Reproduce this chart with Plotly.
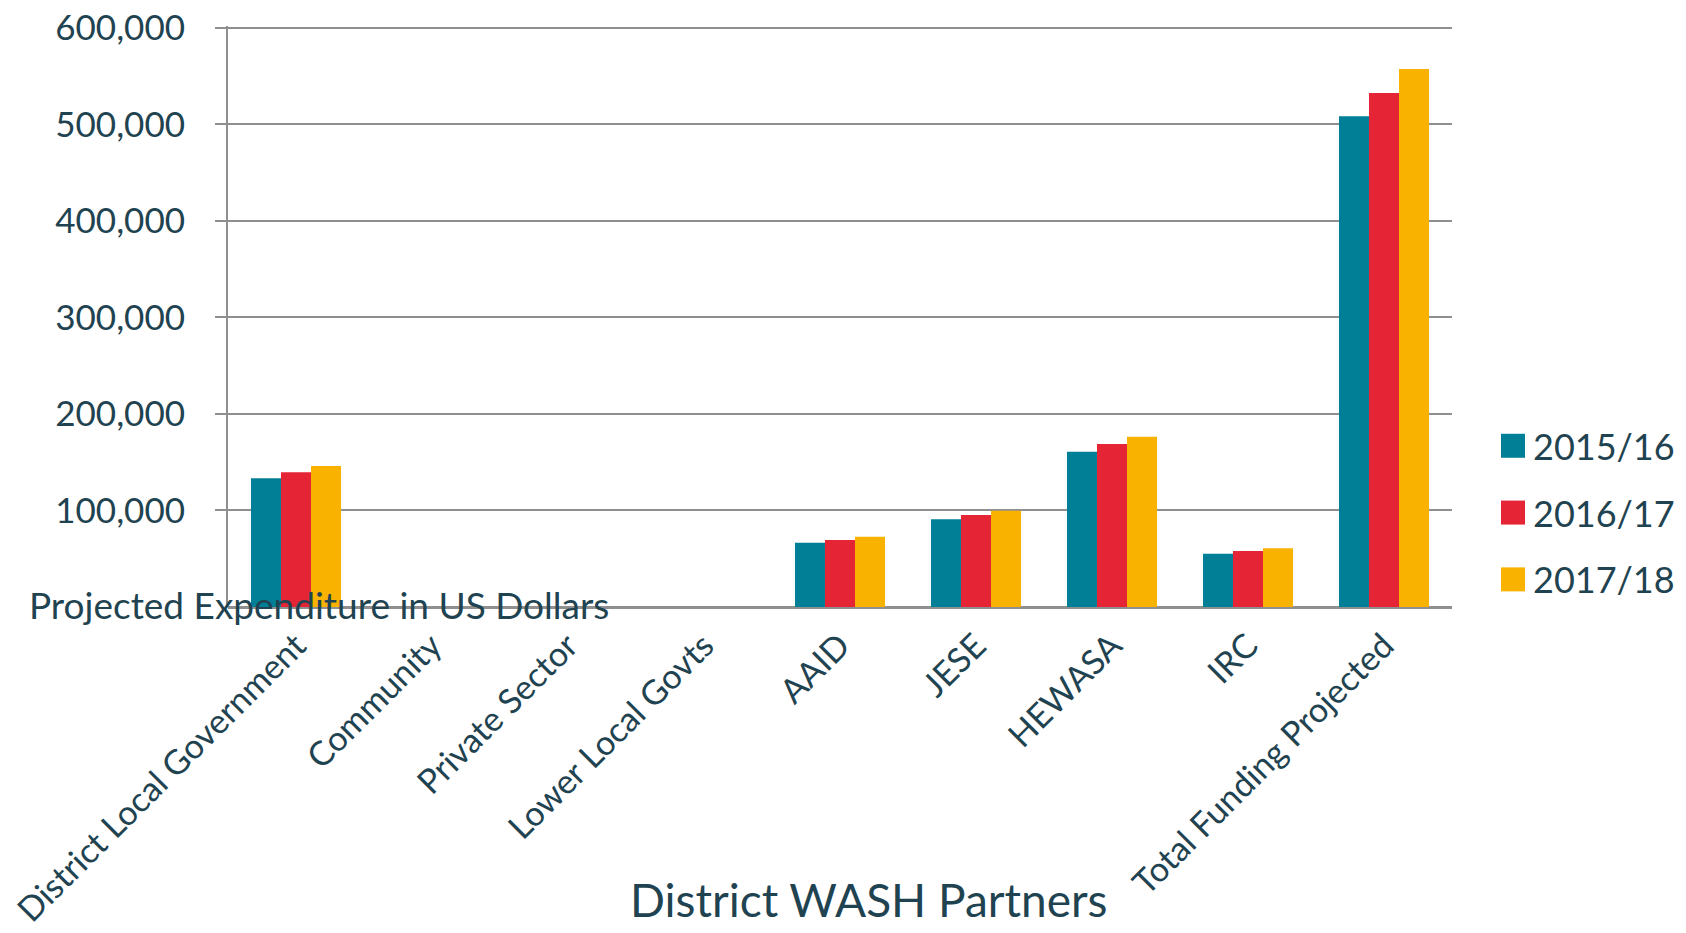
import plotly.graph_objects as go

categories = ["District Local Government", "Community", "Private Sector", "Lower Local Govts",
              "AAID", "JESE", "HEWASA", "IRC", "Total Funding Projected"]
series_names = ["2015/16", "2016/17", "2017/18"]
values_2015 = [133300, None, None, None, 66600, 91000, 160800, 55200, 508400]
values_2016 = [139500, None, None, None, 69400, 95300, 168800, 58000, 532500]
values_2017 = [146000, None, None, None, 72800, 99800, 176500, 61000, 557500]
colors = ["#007f97", "#e52535", "#f9b200"]
y_ticks = [100000, 200000, 300000, 400000, 500000, 600000]
y_title = "Projected Expenditure in US Dollars"
x_title = "District WASH Partners"

TXT = "#1f4350"
GRID = "#8f8f8f"
FONT = "Lato"

fig = go.Figure()
for name, vals, col in zip(series_names, [values_2015, values_2016, values_2017], colors):
    fig.add_trace(go.Bar(x=categories, y=vals, name=name, legendgroup=name,
                         marker=dict(color=col, line=dict(width=0))))

fig.update_layout(
    width=1686, height=933,
    margin=dict(l=228, r=234, t=26, b=326, autoexpand=False),
    paper_bgcolor="white", plot_bgcolor="white",
    barmode="group", bargap=0.338, bargroupgap=0,
    font=dict(family=FONT, color=TXT, size=35),
    legend=dict(x=1.0335, y=0.162, xanchor="left", yanchor="middle",
                font=dict(size=36, color=TXT, family=FONT),
                tracegroupgap=17, traceorder="grouped", bgcolor="rgba(0,0,0,0)"),
    xaxis=dict(showline=False, showgrid=False, ticks="", tickangle=-45, automargin=False,
               tickfont=dict(size=34, color=TXT, family=FONT), ticklabelstandoff=11),
    yaxis=dict(range=[0, 602000], tickvals=y_ticks, tickformat=",", automargin=False,
               showgrid=True, gridcolor=GRID, gridwidth=2,
               showline=True, linecolor=GRID, linewidth=2,
               ticks="outside", ticklen=11, tickcolor=GRID, tickwidth=2,
               zeroline=True, zerolinecolor=GRID, zerolinewidth=3,
               tickfont=dict(size=35, color=TXT, family=FONT), ticklabelstandoff=23),
    annotations=[
        dict(text=y_title, xref="paper", yref="paper", x=-0.164, y=0.005,
             xanchor="left", yanchor="middle", showarrow=False,
             font=dict(size=37, color=TXT, family=FONT)),
        dict(text=x_title, xref="paper", yref="paper", x=0.523, y=-0.504,
             xanchor="center", yanchor="middle", showarrow=False,
             font=dict(size=46, color=TXT, family=FONT)),
    ],
)

post = """
var gd = document.getElementById('{plot_id}');
function fixLegend(){
  gd.querySelectorAll('.legendpoints path').forEach(function(p){ p.setAttribute('d','M12,12H-12V-12H12Z'); });
}
fixLegend();
gd.on('plotly_afterplot', fixLegend);
"""
fig.write_html("out.html", post_script=post)
